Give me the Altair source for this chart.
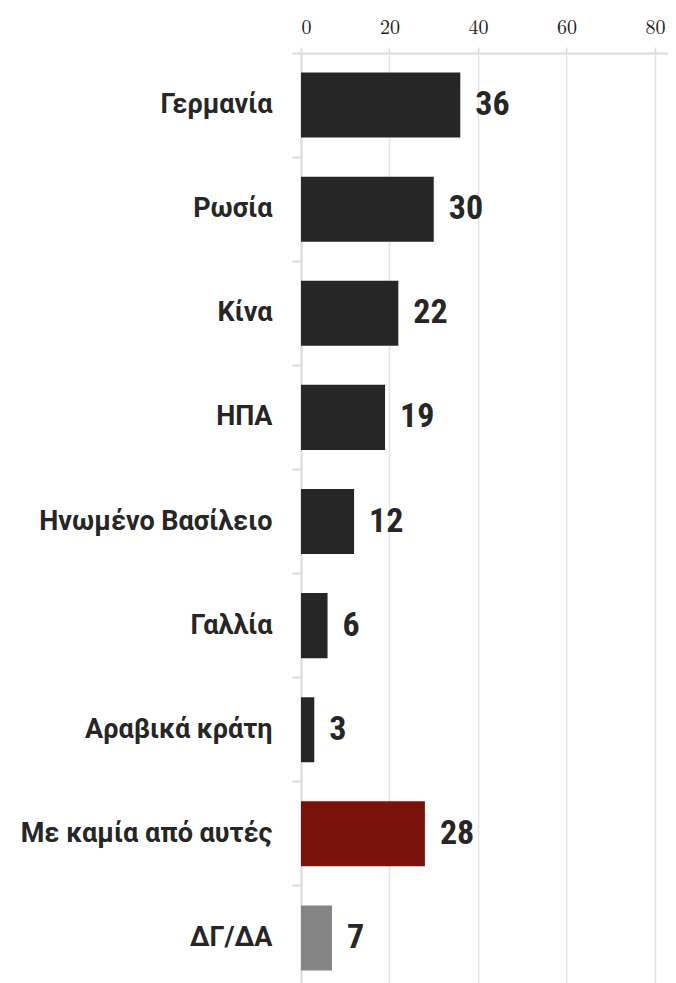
import altair as alt
import pandas as pd

categories = ["Γερμανία", "Ρωσία", "Κίνα", "ΗΠΑ", "Ηνωμένο Βασίλειο", "Γαλλία",
              "Αραβικά κράτη", "Με καμία από αυτές", "ΔΓ/ΔΑ"]
values = [36, 30, 22, 19, 12, 6, 3, 28, 7]
groups = ["main"] * 7 + ["none", "dk"]
x_ticks = [0, 20, 40, 60, 80]

df = pd.DataFrame({"cat": categories, "val": values, "grp": groups})

y_scale = alt.Scale(domain=categories, paddingInner=0, paddingOuter=0, range=[0, 937])

y_enc = alt.Y("cat:N", sort=categories, title=None, scale=y_scale,
              axis=alt.Axis(orient="left", domainColor="#dcdcdc", domainWidth=2,
                            tickColor="#dcdcdc", tickWidth=2, tickSize=9,
                            bandPosition=0, labelPadding=20,
                            labelFont="Roboto", labelFontSize=27,
                            labelFontWeight="bold", labelColor="#262626",
                            labelLimit=300, minExtent=293, maxExtent=293))

x_enc = alt.X("val:Q", title=None,
              scale=alt.Scale(domain=[0, 82.94], nice=False),
              axis=alt.Axis(orient="top", values=x_ticks, grid=True,
                            gridColor="#e3e3e3", gridWidth=1.5,
                            domainColor="#dcdcdc", domainWidth=2,
                            tickColor="#dcdcdc", tickWidth=1.5, tickSize=6,
                            labelFont="Latin Modern Roman", labelFontSize=20,
                            labelColor="#222222", labelPadding=10,
                            minExtent=45, maxExtent=45))

bars = alt.Chart(df).mark_bar(height={"band": 0.625}).encode(
    y=y_enc, x=x_enc,
    color=alt.Color("grp:N", legend=None,
                    scale=alt.Scale(domain=["main", "none", "dk"],
                                    range=["#262626", "#78120a", "#858585"])),
)

labels = alt.Chart(df).mark_text(align="left", baseline="middle", dx=15,
                                 font="Roboto Condensed", fontSize=34,
                                 fontWeight="bold", color="#262626").encode(
    y=alt.Y("cat:N", sort=categories, scale=y_scale), x="val:Q", text="val:Q")

chart = (bars + labels).properties(width=367, height=912, padding=0).configure_view(
    stroke=None)

chart.save("out.html", embed_options={"renderer": "svg", "actions": False})
